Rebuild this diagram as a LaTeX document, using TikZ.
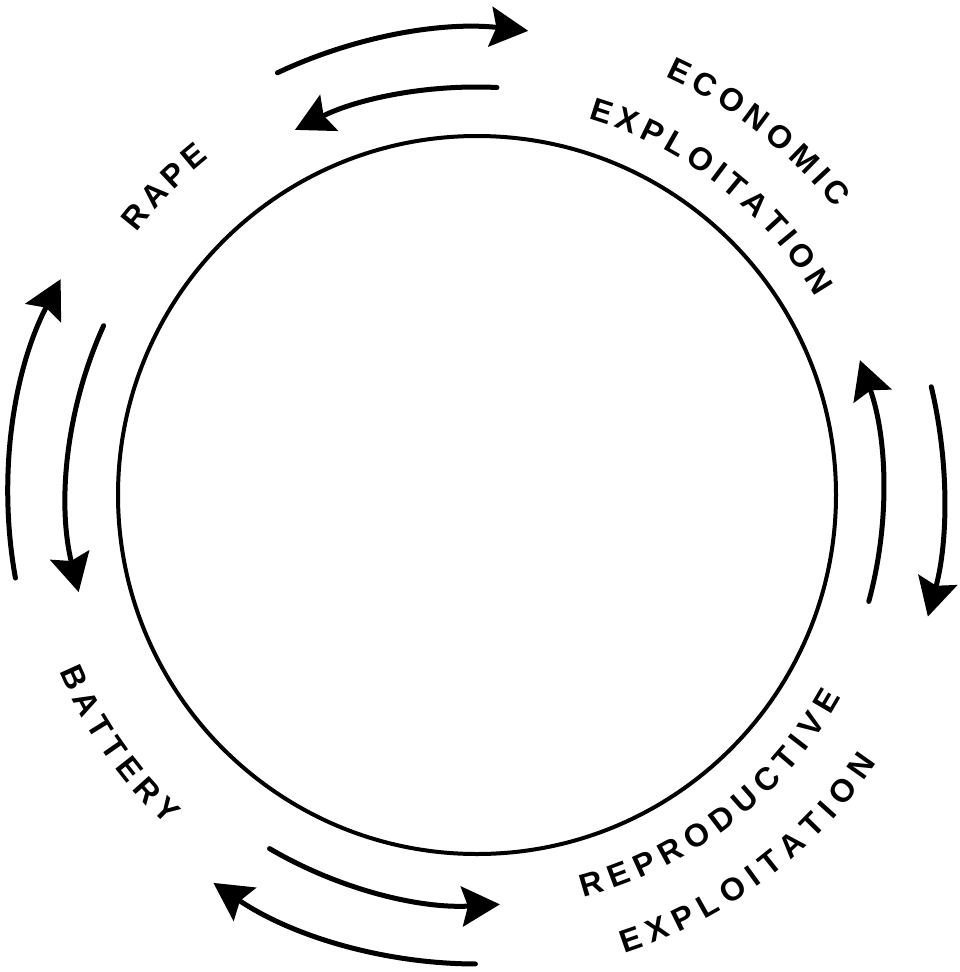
\documentclass[tikz,border=0pt]{standalone}
\usepackage{fontspec}
\setmainfont{Liberation Sans}
\usetikzlibrary{arrows.meta,calc}
\newcommand\lblfont{\fontsize{32}{38}\selectfont\bfseries}
% #1 name, #2 angle of first letter, #3 angle of last letter, #4 baseline radius,
% #5 direction (1 = clockwise, tops out; -1 = counter-clockwise, tops in), #6 letters
\newcommand\arclabel[6]{%
  \gdef\lblsum{0}\gdef\lbln{0}%
  \foreach \lblch [count=\lblk] in {#6}{%
    \pgfmathsetmacro\lbltmp{\lblsum+\csname lblw@\lblch\endcsname}%
    \xdef\lblsum{\lbltmp}\xdef\lbln{\lblk}%
    \ifnum\lblk=1 \xdef\lblwfirst{\csname lblw@\lblch\endcsname}\fi
    \xdef\lblwlast{\csname lblw@\lblch\endcsname}%
  }%
  \pgfmathsetmacro\lblsp{(abs(#2-#3)*pi/180*#4-(\lblsum-0.5*\lblwfirst-0.5*\lblwlast))/(\lbln-1)}%
  \gdef\lblcum{0}%
  \foreach \lblch [count=\lblk] in {#6}{%
    \edef\lblwn{\csname lblw@\lblch\endcsname}%
    \pgfmathsetmacro\lblang{#2-(#5)*(\lblcum+0.5*\lblwn-0.5*\lblwfirst)/#4*180/pi}%
    \pgfmathsetmacro\lblrot{\lblang-(#5)*90}%
    \node[lbl, rotate=\lblrot] (#1-\lblk) at ($(C)+(\lblang:#4)$) {\lblch};%
    \pgfmathsetmacro\lbltmp{\lblcum+\lblwn+\lblsp}%
    \xdef\lblcum{\lbltmp}%
  }%
}
\begin{document}
\foreach \lblch in {A,B,C,D,E,I,L,M,N,O,P,R,T,U,V,X,Y}{%
  \setbox0\hbox{\lblfont\lblch}%
  \pgfmathsetmacro\lbltmp{\the\wd0}%
  \expandafter\xdef\csname lblw@\lblch\endcsname{\lbltmp}%
}%
\begin{tikzpicture}[x=1pt,y=1pt,
  ring/.style={line width=4pt},
  flow/.style={line width=5pt, line cap=round, -{Stealth[length=38pt,width=40pt,inset=6pt]}},
  lbl/.style={font=\lblfont, anchor=base, inner sep=0pt, outer sep=0pt}]
\useasboundingbox (0,-972) rectangle (959,0);
\coordinate (C) at (477,-495);
\draw[ring] (C) circle[radius=359];
% top pair
\coordinate (t1) at ($(C)+(115.3:467)$);
\coordinate (t2) at ($(C)+(87.2:408)$);
\draw[flow] (t1) arc[start angle=115.3, end angle=83.7, radius=467];
\draw[flow] (t2) arc[start angle=87.2, end angle=116.5, radius=408];
% left pair
\coordinate (l1) at ($(C)+(190.2:469)$);
\coordinate (l2) at ($(C)+(155.6:410)$);
\draw[flow] (l1) arc[start angle=190.2, end angle=152.6, radius=469];
\draw[flow] (l2) arc[start angle=155.6, end angle=193.7, radius=410];
% right pair
\coordinate (r1) at ($(C)+(-15.2:406)$);
\coordinate (r2) at ($(C)+(13.4:467)$);
\draw[flow] (r1) arc[start angle=-15.2, end angle=19.4, radius=406];
\draw[flow] (r2) arc[start angle=13.4, end angle=-15.1, radius=467];
% bottom pair
\coordinate (b1) at ($(C)+(239.6:410)$);
\coordinate (b2) at ($(C)+(269.8:469)$);
\draw[flow] (b1) arc[start angle=239.6, end angle=273.2, radius=410];
\draw[flow] (b2) arc[start angle=269.8, end angle=235.8, radius=469];
% labels
\arclabel{rape}{140.9}{129.9}{430}{1}{R,A,P,E}
\arclabel{econ}{64.4}{40.1}{458.5}{1}{E,C,O,N,O,M,I,C}
\arclabel{explA}{72}{32}{392.5}{1}{E,X,P,L,O,I,T,A,T,I,O,N}
\arclabel{batt}{204.4}{225.5}{453.5}{-1}{B,A,T,T,E,R,Y}
\arclabel{repro}{286.4}{329.5}{416.5}{-1}{R,E,P,R,O,D,U,C,T,I,V,E}
\arclabel{explB}{289.1}{324.8}{481.5}{-1}{E,X,P,L,O,I,T,A,T,I,O,N}
\end{tikzpicture}
\end{document}
